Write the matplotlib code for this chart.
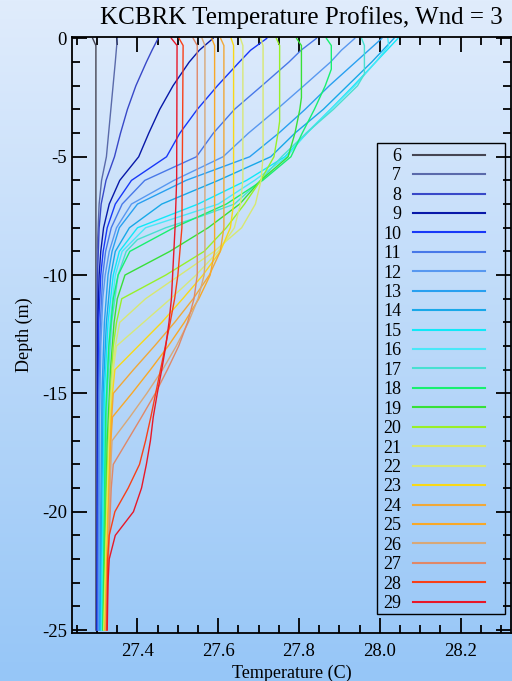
import matplotlib
matplotlib.use('Agg')
import matplotlib.pyplot as plt
import numpy as np
from matplotlib.colors import LinearSegmentedColormap
from matplotlib.patches import Rectangle
from matplotlib.ticker import MultipleLocator, FormatStrFormatter

plt.rcParams['font.family'] = 'Liberation Serif'
plt.rcParams['axes.unicode_minus'] = False

hours = list(range(6, 30))

line_colors = ['#454552', '#5a6aaa', '#3848c8', '#0818a8', '#1838f8', '#4878e8',
               '#5898f0', '#28a0f0', '#18a8e8', '#10e8f8', '#48e8f8', '#48e0d0',
               '#18f070', '#38e038', '#98f028', '#d8e870', '#d8e878', '#f8d818',
               '#f0a838', '#f8a828', '#d8a878', '#e08868', '#f84018', '#e81828']

# (depth m, temperature C) vertices of each hourly profile
profiles = [
    [(0, 27.289), (-0.3, 27.297), (-25, 27.297)],
    [(0, 27.350), (-1, 27.345), (-3, 27.334), (-5, 27.323), (-6, 27.311), (-7, 27.305), (-9, 27.300), (-25, 27.298)],
    [(0, 27.451), (-0.5, 27.436), (-1, 27.422), (-2, 27.396), (-3, 27.375), (-4, 27.358), (-5, 27.343), (-6, 27.322),
     (-7, 27.310), (-8, 27.305), (-10, 27.301), (-25, 27.299)],
    [(0, 27.587), (-0.5, 27.553), (-1, 27.528), (-2, 27.488), (-3, 27.455), (-4, 27.428), (-5, 27.403), (-6, 27.356),
     (-7, 27.330), (-8, 27.316), (-9, 27.309), (-10, 27.305), (-12, 27.302), (-25, 27.300)],
    [(0, 27.720), (-0.5, 27.680), (-1, 27.652), (-2, 27.598), (-3, 27.548), (-4, 27.505), (-5, 27.472), (-6, 27.385),
     (-7, 27.345), (-8, 27.325), (-9, 27.315), (-10, 27.309), (-12, 27.304), (-25, 27.301)],
    [(0, 27.843), (-0.5, 27.805), (-1, 27.775), (-2, 27.708), (-3, 27.640), (-4, 27.588), (-5, 27.546), (-6, 27.418),
     (-7, 27.362), (-8, 27.335), (-9, 27.321), (-10, 27.314), (-12, 27.308), (-15, 27.304), (-25, 27.302)],
    [(0, 27.938), (-0.5, 27.905), (-1, 27.878), (-2, 27.812), (-3, 27.745), (-4, 27.675), (-5, 27.612), (-6, 27.490),
     (-7, 27.385), (-8, 27.348), (-9, 27.330), (-10, 27.320), (-11, 27.314), (-13, 27.309), (-16, 27.306), (-25, 27.304)],
    [(0, 28.005), (-1, 27.940), (-2, 27.875), (-3, 27.815), (-4, 27.750), (-5, 27.678), (-6, 27.520), (-7, 27.400),
     (-8, 27.355), (-9, 27.337), (-10, 27.327), (-12, 27.318), (-15, 27.312), (-25, 27.306)],
    [(0, 28.035), (-1, 27.980), (-2, 27.920), (-3, 27.860), (-4, 27.790), (-5, 27.730), (-6, 27.600), (-7, 27.460),
     (-8, 27.380), (-9, 27.345), (-10, 27.334), (-12, 27.323), (-15, 27.315), (-25, 27.308)],
    [(0, 28.045), (-1, 27.990), (-2, 27.935), (-3, 27.878), (-4, 27.820), (-5, 27.765), (-6, 27.670), (-7, 27.550),
     (-8, 27.400), (-9, 27.355), (-10, 27.340), (-12, 27.327), (-15, 27.318), (-25, 27.310)],
    [(0, 28.020), (-0.3, 28.022), (-1, 27.990), (-2, 27.938), (-3, 27.878), (-4, 27.818), (-5, 27.770), (-6, 27.690),
     (-7, 27.600), (-8, 27.420), (-9, 27.362), (-10, 27.345), (-12, 27.332), (-15, 27.322), (-25, 27.312)],
    [(0, 27.955), (-0.3, 27.962), (-1.5, 27.962), (-2, 27.945), (-3, 27.885), (-4, 27.818), (-5, 27.757), (-6, 27.705),
     (-7, 27.640), (-7.5, 27.560), (-8, 27.470), (-8.5, 27.400), (-9, 27.372), (-10, 27.352), (-12, 27.336),
     (-15, 27.325), (-25, 27.313)],
    [(0, 27.868), (-0.3, 27.880), (-1.3, 27.880), (-2, 27.865), (-3, 27.838), (-4, 27.808), (-5, 27.780), (-6, 27.710),
     (-7, 27.620), (-8, 27.490), (-9, 27.381), (-10, 27.352), (-11, 27.340), (-13, 27.329), (-16, 27.321), (-25, 27.314)],
    [(0, 27.794), (-0.3, 27.806), (-2.5, 27.806), (-3, 27.802), (-4, 27.790), (-5, 27.773), (-6, 27.705), (-7, 27.653),
     (-8, 27.575), (-9, 27.480), (-10, 27.369), (-11, 27.350), (-12, 27.342), (-14, 27.333), (-17, 27.325), (-25, 27.315)],
    [(0, 27.744), (-0.3, 27.752), (-3.5, 27.752), (-4, 27.748), (-5, 27.738), (-6, 27.705), (-7, 27.665), (-8, 27.620),
     (-9, 27.565), (-10, 27.470), (-11, 27.361), (-12, 27.348), (-13, 27.340), (-15, 27.333), (-18, 27.326), (-25, 27.316)],
    [(0, 27.705), (-0.3, 27.711), (-5, 27.711), (-6, 27.706), (-7, 27.692), (-8, 27.658), (-9, 27.590), (-10, 27.505),
     (-11, 27.420), (-12, 27.356), (-13, 27.345), (-14, 27.338), (-16, 27.332), (-19, 27.326), (-25, 27.317)],
    [(0, 27.655), (-0.3, 27.661), (-6, 27.661), (-7, 27.655), (-8, 27.640), (-9, 27.600), (-10, 27.545), (-11, 27.482),
     (-12, 27.415), (-13, 27.348), (-14, 27.340), (-15, 27.335), (-17, 27.330), (-20, 27.325), (-25, 27.318)],
    [(0, 27.632), (-0.3, 27.638), (-7, 27.638), (-8, 27.630), (-9, 27.605), (-10, 27.562), (-11, 27.512), (-12, 27.460),
     (-13, 27.402), (-14, 27.344), (-15, 27.338), (-16, 27.334), (-18, 27.330), (-21, 27.325), (-25, 27.319)],
    [(0, 27.606), (-0.3, 27.614), (-8, 27.614), (-9, 27.605), (-10, 27.578), (-11, 27.538), (-12, 27.492), (-13, 27.442),
     (-14, 27.390), (-15, 27.340), (-16, 27.336), (-17, 27.333), (-19, 27.330), (-22, 27.325), (-25, 27.320)],
    [(0, 27.584), (-0.3, 27.591), (-9, 27.591), (-10, 27.580), (-11, 27.552), (-12, 27.516), (-13, 27.476), (-14, 27.432),
     (-15, 27.386), (-16, 27.338), (-17, 27.334), (-18, 27.332), (-20, 27.328), (-25, 27.321)],
    [(0, 27.560), (-0.3, 27.567), (-9.5, 27.567), (-10, 27.565), (-11, 27.550), (-12, 27.526), (-13, 27.496),
     (-14, 27.462), (-15, 27.423), (-16, 27.381), (-17, 27.337), (-18, 27.334), (-20, 27.330), (-25, 27.322)],
    [(0, 27.538), (-0.3, 27.548), (-10, 27.548), (-11, 27.540), (-12, 27.524), (-13, 27.502), (-14, 27.474),
     (-15, 27.444), (-16, 27.410), (-17, 27.375), (-18, 27.340), (-19, 27.335), (-21, 27.330), (-25, 27.323)],
    [(0, 27.503), (-0.3, 27.513), (-8, 27.510), (-10, 27.500), (-11, 27.492), (-12, 27.481), (-13, 27.469),
     (-14, 27.457), (-15, 27.445), (-16, 27.433), (-17, 27.420), (-18, 27.405), (-19, 27.377), (-20, 27.344),
     (-21, 27.330), (-22, 27.326), (-25, 27.324)],
    [(0, 27.484), (-0.3, 27.498), (-6, 27.497), (-8, 27.493), (-10, 27.487), (-11, 27.484), (-12, 27.478),
     (-13, 27.470), (-14, 27.460), (-15, 27.449), (-16, 27.439), (-17, 27.432), (-18, 27.422), (-19, 27.410),
     (-20, 27.390), (-21, 27.345), (-22, 27.330), (-23, 27.327), (-25, 27.325)],
]

W, H = 512, 681
fig = plt.figure(figsize=(W / 100, H / 100), dpi=100)

# light-to-blue vertical background wash
bg = fig.add_axes([0, 0, 1, 1], zorder=-1)
cmap = LinearSegmentedColormap.from_list('wash', ['#e0ecfc', '#96c6f7'])
bg.imshow(np.linspace(0, 1, 256).reshape(-1, 1), aspect='auto', cmap=cmap, extent=(0, 1, 0, 1))
bg.axis('off')

ax = fig.add_axes([0.140, 0.070, 0.858, 0.876])
ax.set_facecolor('none')

for hour, color, prof in zip(hours, line_colors, profiles):
    depth, temp = zip(*prof)
    ax.plot(temp, depth, color=color, lw=1.0, label=str(hour))

ax.set_xlim(27.237, 28.325)
ax.set_ylim(-25.14, 0.07)
ax.xaxis.set_major_locator(MultipleLocator(0.2))
ax.xaxis.set_minor_locator(MultipleLocator(0.05))
ax.xaxis.set_major_formatter(FormatStrFormatter('%.1f'))
ax.yaxis.set_major_locator(MultipleLocator(5))
ax.yaxis.set_minor_locator(MultipleLocator(1))
ax.tick_params(which='both', direction='in', top=True, right=True, width=1.3, labelsize=13.5)
ax.tick_params(which='major', length=11)
ax.tick_params(axis='x', which='major', pad=7)
ax.tick_params(which='minor', length=6)
for s in ax.spines.values():
    s.set_linewidth(1.3)

fig.text(301 / W, 1 - 18 / H, 'KCBRK Temperature Profiles, Wnd = 3', fontsize=18,
         ha='center', va='center')
ax.set_xlabel('Temperature (C)', fontsize=13, labelpad=3)
ax.set_ylabel('Depth (m)', fontsize=13, labelpad=6)

leg = ax.legend(loc='upper left', bbox_to_anchor=(383 / W, 1 - 148 / H),
                bbox_transform=fig.transFigure, borderaxespad=0, borderpad=0,
                markerfirst=False, fontsize=13, handlelength=4.0, handletextpad=0.65,
                labelspacing=0.135, frameon=False)
for line in leg.get_lines():
    line.set_linewidth(1.5)

# legend frame
fig.add_artist(Rectangle((377 / W, 1 - 614 / H), (505 - 377) / W, (614 - 143) / H,
                         transform=fig.transFigure, fill=False, edgecolor='black', lw=1.0))

fig.savefig('out.png', dpi=100)
